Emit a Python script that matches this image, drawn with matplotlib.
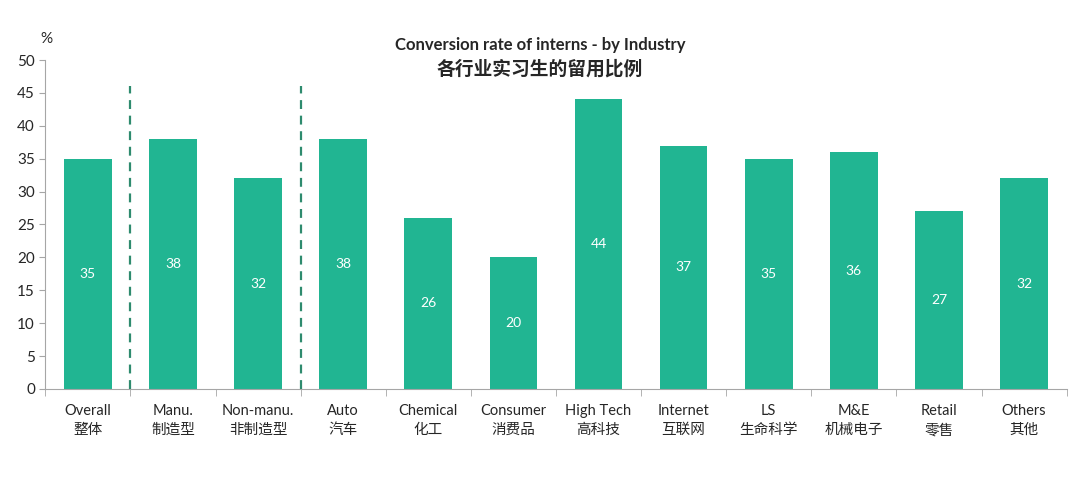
import matplotlib
matplotlib.use("Agg")
import matplotlib.pyplot as plt

plt.rcParams['font.family'] = ['Lato', 'Noto Sans CJK SC', 'DejaVu Sans']

categories_en = ["Overall", "Manu.", "Non-manu.", "Auto", "Chemical", "Consumer",
                 "High Tech", "Internet", "LS", "M&E", "Retail", "Others"]
categories_cn = ["整体", "制造型", "非制造型", "汽车", "化工", "消费品",
                 "高科技", "互联网", "生命科学", "机械电子", "零售", "其他"]
values = [35, 38, 32, 38, 26, 20, 44, 37, 35, 36, 27, 32]
divider_positions = [0.5, 2.5]

bar_color = "#21B592"
axis_color = "#A6A6A6"
text_color = "#262626"

fig = plt.figure(figsize=(10.8, 4.82), dpi=100)
ax = fig.add_axes([0.042, 0.193, 0.9456, 0.6825])

x = list(range(len(values)))
bars = ax.bar(x, values, width=0.56, color=bar_color, zorder=2)
for xi, v in zip(x, values):
    ax.text(xi, v / 2, str(v), ha='center', va='center', color='white', fontsize=10)

for d in divider_positions:
    ax.plot([d, d], [0, 46], linestyle=(0, (4, 3)), color="#2E8B6E", linewidth=1.6, zorder=3)

ax.set_xlim(-0.5, len(values) - 0.5)
ax.set_ylim(0, 50)
ax.set_yticks(range(0, 51, 5))
ax.tick_params(axis='y', colors=axis_color, labelcolor=text_color, labelsize=11, length=4, direction='out')
ax.set_xticks(x)
ax.set_xticklabels([f"{e}\n{c}" for e, c in zip(categories_en, categories_cn)],
                   fontsize=10.5, color=text_color, linespacing=1.45)
ax.tick_params(axis='x', length=0, pad=11)
ax.set_xticks([i + 0.5 for i in range(-1, len(values))], minor=True)
ax.tick_params(axis='x', which='minor', length=5, color=axis_color)

for s in ['top', 'right']:
    ax.spines[s].set_visible(False)
ax.spines['left'].set_color(axis_color)
ax.spines['bottom'].set_color(axis_color)

fig.text(0.5, 0.907, "Conversion rate of interns - by Industry", ha='center', va='center',
         fontsize=12, fontweight='bold', color=text_color)
fig.text(0.5, 0.858, "各行业实习生的留用比例", ha='center', va='center',
         fontsize=13.5, fontweight='bold', color=text_color)
fig.text(0.043, 0.92, "%", ha='center', va='center', fontsize=11, color=text_color)

fig.savefig("out.png", dpi=100)
